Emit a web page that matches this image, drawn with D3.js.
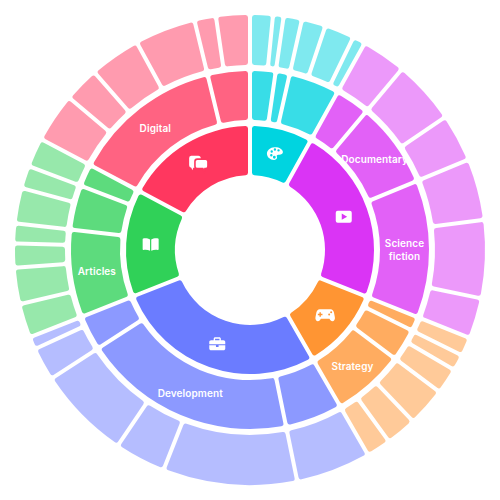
<!DOCTYPE html>
<html>
<head>
<meta charset="utf-8">
<script src="https://cdn.jsdelivr.net/npm/d3@7"></script>
<style>
html,body{margin:0;padding:0;background:#fff;}
svg{display:block;}
text{font-family:Inter,"Noto Sans",sans-serif;font-weight:600;font-size:10px;letter-spacing:0.1px;fill:#fff;text-anchor:middle;}
</style>
</head>
<body>
<svg id="chart" width="500" height="500"></svg>
<script>
// Data, clockwise from 12 o'clock
const groupIds = ["palette","video","gamepad","briefcase","book","comments"];
const groupColors = ["#00D4E0","#DA34F5","#FF9533","#6B7CFF","#30D158","#FF375F"];
const branchLabels = [
  ["","",""],
  ["","Documentary","Science\nfiction"],
  ["","","Strategy"],
  ["","Development",""],
  ["Articles","",""],
  ["Digital",""]
];
const leafValues = [
  [[5.6,2.6],[4.5],[5.9,7.3,3.1]],
  [[11],[15.7,11.8],[15.1,19.2,10]],
  [[4.6],[4,6.4],[9.6,7.6,6]],
  [[18.4],[33,12.6,23],[8.2,3.1]],
  [[8.4,8.9,5.9,4.9],[8.7,5.6],[7.2]],
  [[12.1,8.7,12.6,15],[5.3,8.3]]
];
const innerRadii = [0,75,130,185];
const outerRadii = [0,124,179,235];
const depthOpacity = [1,1,0.78,0.5];

const rows = groupIds.map((id,g)=>({
  name:id, color:groupColors[g],
  children:leafValues[g].map((branch,b)=>({
    name:branchLabels[g][b],
    children:branch.map(v=>({value:v}))
  }))
}));

const root = d3.hierarchy({children:rows}).sum(d=>d.value||0);
d3.partition().size([2*Math.PI,4])(root);

const arc = d3.arc()
  .startAngle(d=>d.x0).endAngle(d=>d.x1)
  .innerRadius(d=>innerRadii[d.depth]).outerRadius(d=>outerRadii[d.depth])
  .padAngle(0.02).padRadius(200).cornerRadius(2.5);

const svg = d3.select("#chart");
const g = svg.append("g").attr("transform","translate(250,250)");
const colorOf = d=>{let n=d;while(n.depth>1)n=n.parent;return n.data.color;};

g.selectAll("path.seg").data(root.descendants().filter(d=>d.depth>0)).join("path")
  .attr("class","seg").attr("d",arc).attr("fill",colorOf)
  .attr("fill-opacity",d=>depthOpacity[d.depth]);

// Icon glyphs, drawn around their own origin
const icons = {
  palette:[{d:"M-0.5-6.5C4-6.8 8-4.6 8-1.6C8 .8 5.6 1.2 3.6 1C2 .9 1.4 2 2 3.2C2.6 4.6 1.6 6.3-.8 6.3C-4.8 6.3-8 3.6-8-.1C-8-3.6-4.6-6.3-.5-6.5ZM-4.4-2.1a1.2 1.2 0 1 0 2.4 0a1.2 1.2 0 1 0-2.4 0ZM-1.2-4.2a1.2 1.2 0 1 0 2.4 0a1.2 1.2 0 1 0-2.4 0ZM2.4-3.3a1.2 1.2 0 1 0 2.4 0a1.2 1.2 0 1 0-2.4 0ZM-4.8 1.6a1.2 1.2 0 1 0 2.4 0a1.2 1.2 0 1 0-2.4 0ZM-2 3.6a1.4 1.4 0 1 0 2.8 0a1.4 1.4 0 1 0-2.8 0Z"}],
  video:[{d:"M-6-6H6A2 2 0 0 1 8-4V4A2 2 0 0 1 6 6H-6A2 2 0 0 1-8 4V-4A2 2 0 0 1-6-6ZM-2-3.2V3.2L3.4 0Z"}],
  gamepad:[{d:"M-5.5-6H5.5C7.2-6 8.3-4.6 8.8-2.6L9.7 2C10.1 4.3 8.9 6 7.3 6C5.8 6 5.1 4.9 4.3 3.6H-4.3C-5.1 4.9-5.8 6-7.3 6C-8.9 6-10.1 4.3-9.7 2L-8.8-2.6C-8.3-4.6-7.2-6-5.5-6ZM-5.7-3V-1.4H-7.3V0H-5.7V1.6H-4.3V0H-2.7V-1.4H-4.3V-3ZM3-.7a1 1 0 1 0 2 0a1 1 0 1 0-2 0ZM5-2.9a1 1 0 1 0 2 0a1 1 0 1 0-2 0Z"}],
  briefcase:[{d:"M-3.6-3.8V-5C-3.6-6-2.9-6.7-2-6.7H2C2.9-6.7 3.6-6 3.6-5V-3.8H6.2C7.2-3.8 8-3 8-2V0.2H-8V-2C-8-3-7.2-3.8-6.2-3.8ZM-2.2-3.8H2.2V-5.3H-2.2ZM-8 1.4H-1.3V3H1.3V1.4H8V4.6C8 5.6 7.2 6.4 6.2 6.4H-6.2C-7.2 6.4-8 5.6-8 4.6Z"}],
  book:[{d:"M-.6-4.9C-2.4-6.2-5.6-6.5-7.4-6C-7.8-5.9-8-5.6-8-5.2V4.8C-8 5.3-7.6 5.6-7.1 5.5C-5 5.1-2.6 5.3-.6 6.3ZM.6-4.9C2.4-6.2 5.6-6.5 7.4-6C7.8-5.9 8-5.6 8-5.2V4.8C8 5.3 7.6 5.6 7.1 5.5C5 5.1 2.6 5.3 .6 6.3Z"}],
  comments:[
    {d:"M-7.5-9H-.5A2.5 2.5 0 0 1 2-6.5V0.5A2.5 2.5 0 0 1-.5 3H-5.4L-6.4 5.6L-7.4 3A2.5 2.5 0 0 1-9.6 .5V-6.5A2.3 2.3 0 0 1-7.5-9Z"},
    {d:"M-1.4-5.6H6.8A2.4 2.4 0 0 1 9.2-3.2V1.5A2.4 2.4 0 0 1 6.8 3.9H6.2L5.5 6.5L4.1 3.9H-1.4A2.4 2.4 0 0 1-3.8 1.5V-3.2A2.4 2.4 0 0 1-1.4-5.6Z",outline:true}
  ]
};

const iconNodes = g.selectAll("g.icon").data(root.descendants().filter(d=>d.depth===1)).join("g")
  .attr("class","icon")
  .attr("transform",d=>`translate(${arc.centroid(d)})`);
iconNodes.each(function(d){
  d3.select(this).selectAll("path").data(icons[d.data.name]).join("path")
    .attr("d",p=>p.d).attr("fill","#fff").attr("fill-rule","evenodd")
    .attr("stroke",p=>p.outline?d.data.color:"none").attr("stroke-width",p=>p.outline?1.6:0);
});

// Branch labels
const labels = g.selectAll("text").data(root.descendants().filter(d=>d.depth===2&&d.data.name)).join("text")
  .attr("transform",d=>`translate(${arc.centroid(d)})`);
labels.each(function(d){
  const parts=d.data.name.split("\n");
  d3.select(this).selectAll("tspan").data(parts).join("tspan")
    .attr("x",0)
    .attr("y",(s,i)=>(i-(parts.length-1)/2)*13+1)
    .attr("dy","0.35em")
    .text(s=>s);
});
</script>
</body>
</html>
